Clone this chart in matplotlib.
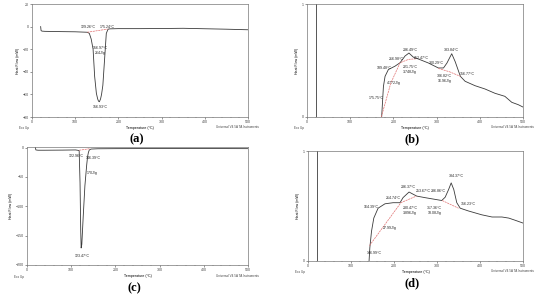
import matplotlib
matplotlib.use("Agg")
import matplotlib.pyplot as plt
from matplotlib.ticker import MultipleLocator

plt.rcParams['font.family'] = ['Liberation Sans', 'DejaVu Sans']

# ---------------- data ----------------
# (a)
a_T = [20, 21, 23, 30, 60, 100, 128, 132.7, 137, 141.4, 145, 149, 152, 154, 156, 158.7, 161, 164, 168, 172, 176, 180, 200, 250, 300, 350, 400, 450, 500]
a_HF = [0, -3.5, -4.0, -4.2, -4.4, -4.6, -5.0, -6.0, -11, -20, -44, -59, -64, -66, -66.5, -64, -60, -52, -29, -6, -2.3, -2.0, -1.8, -1.8, -1.7, -1.5, -1.9, -2.3, -2.8]
a_base_T = [128, 175]
a_base_HF = [-5.0, -2.2]
a_labels = [(129.26, -0.5, "129.26°C"), (175.24, -0.5, "175.24°C"),
            (156.97, -21, "156.97°C\n264J/g"), (156.93, -71, "156.93°C")]

# (b)
b_T = [172.8, 176.9, 180.7, 188.4, 203.8, 215.4, 227, 236, 246, 258, 281, 304, 316, 324, 335, 343, 355, 366, 389, 412, 435, 458, 474, 489, 500]
b_HF = [0, 0.27, 0.36, 0.42, 0.45, 0.48, 0.54, 0.566, 0.53, 0.513, 0.478, 0.434, 0.434, 0.478, 0.56, 0.49, 0.36, 0.316, 0.277, 0.248, 0.21, 0.183, 0.13, 0.109, 0.088]
b_base1_T = [172, 194, 215.4, 235, 252]
b_base1_HF = [0.0, 0.30, 0.48, 0.51, 0.515]
b_base2_T = [304, 330, 355]
b_base2_HF = [0.43, 0.40, 0.36]
b_labels = [(160, 0.17, "175.75°C"), (202, 0.30, "4.772J/g"), (179, 0.43, "189.48°C"),
            (206, 0.51, "216.98°C"), (238, 0.59, "236.49°C"), (238, 0.42, "221.75°C\n3.748J/g"),
            (265, 0.52, "252.47°C"), (299, 0.48, "300.29°C"), (318, 0.34, "306.82°C\n16.96J/g"),
            (334, 0.59, "333.84°C"), (371, 0.38, "356.77°C")]

# (c)
c_T = [19, 20, 25, 40, 80, 110, 118, 120, 121.5, 122.5, 124, 127, 131, 135, 137, 139, 141, 145, 160, 200, 300, 400, 500]
c_HF = [0, -4, -4.5, -4.5, -4.3, -4.0, -5, -60, -140, -171, -165, -120, -65, -30, -15.6, -8, -4, -2.5, -2, -1.8, -1.6, -1.6, -1.8]
c_base_T = [118, 143]
c_base_HF = [-4.5, -1.8]
c_labels = [(112, -14, "122.96°C"), (150, -17, "146.39°C"), (147, -43, "170J/g"), (124, -185, "123.47°C")]

# (d)
d_T = [142, 143.8, 147.7, 153, 163, 179, 198, 214, 221, 235, 245, 253, 272, 296, 311, 319, 327, 333, 339, 346, 354, 373, 404, 428, 451, 467, 482, 500]
d_HF = [0, 0.12, 0.27, 0.39, 0.48, 0.52, 0.53, 0.53, 0.576, 0.627, 0.606, 0.59, 0.576, 0.56, 0.55, 0.58, 0.65, 0.71, 0.65, 0.53, 0.48, 0.455, 0.42, 0.40, 0.40, 0.39, 0.37, 0.345]
d_base1_T = [143, 216, 252]
d_base1_HF = [0.14, 0.53, 0.59]
d_base2_T = [312, 350]
d_base2_HF = [0.55, 0.48]
d_labels = [(155, 0.07, "146.99°C"), (190, 0.30, "27.99J/g"), (148, 0.49, "164.39°C"),
            (199, 0.57, "214.74°C"), (233, 0.67, "236.37°C"), (237, 0.46, "230.47°C\n3.896J/g"),
            (268, 0.64, "253.67°C"), (303, 0.635, "286.86°C"), (294, 0.46, "317.36°C\n18.08J/g"),
            (344, 0.77, "334.37°C"), (374, 0.52, "356.23°C")]

xticks = [0, 100, 200, 300, 400, 500]

# ---------------- figure ----------------
W, H = 550, 296
fig = plt.figure(figsize=(W / 100, H / 100), dpi=100)
fig.patch.set_facecolor('white')

def box(l, t, r, b):
    return [l / W, 1 - b / H, (r - l) / W, (b - t) / H]

line_c = '#3a3a3a'
red_c = '#e07070'
fs = 2.6

panels = [
    dict(pos=box(32, 4, 248, 117), T=a_T, HF=a_HF, bases=[(a_base_T, a_base_HF)], labels=a_labels,
         ylim=(-80, 20), yticks=[-80, -60, -40, -20, 0, 20], ytl=None, vline=False, letter="(a)"),
    dict(pos=box(307, 4, 523, 117), T=b_T, HF=b_HF, bases=[(b_base1_T, b_base1_HF), (b_base2_T, b_base2_HF)],
         labels=b_labels, ylim=(0, 1), yticks=[0, 1], ytl=["0", "1"], vline=True, letter="(b)"),
    dict(pos=box(27, 147, 248, 265), T=c_T, HF=c_HF, bases=[(c_base_T, c_base_HF)], labels=c_labels,
         ylim=(-200, 1), yticks=[-200, -150, -100, -50, 0], ytl=None, vline=False, letter="(c)"),
    dict(pos=box(308, 151, 523, 261), T=d_T, HF=d_HF, bases=[(d_base1_T, d_base1_HF), (d_base2_T, d_base2_HF)],
         labels=d_labels, ylim=(0, 1), yticks=[0, 1], ytl=["0", "1"], vline=True, letter="(d)"),
]

for p in panels:
    ax = fig.add_axes(p['pos'])
    ax.plot(p['T'], p['HF'], color=line_c, lw=0.6)
    if p['vline']:
        ax.axvline(20, color=line_c, lw=0.6)
    for bt, bh in p['bases']:
        ax.plot(bt, bh, color=red_c, lw=0.5, ls=(0, (3, 1)))
    for x, y, s in p['labels']:
        ax.text(x, y, s, fontsize=fs, ha='center', va='center', color='#222222', linespacing=1.3)
    ax.set_xlim(0, 500)
    ax.set_ylim(*p['ylim'])
    ax.set_xticks(xticks)
    ax.set_yticks(p['yticks'])
    if p['ytl'] is not None:
        ax.set_yticklabels(p['ytl'])
    ax.xaxis.set_minor_locator(MultipleLocator(20))
    ax.tick_params(axis='both', which='major', labelsize=fs, length=1.5, width=0.4, pad=1, direction='out', colors='#444444')
    ax.tick_params(axis='x', which='minor', length=1.0, width=0.3, direction='out', colors='#444444')
    for s in ax.spines.values():
        s.set_linewidth(0.5)
        s.set_color('#777777')
    ax.set_xlabel("Temperature (°C)", fontsize=fs, labelpad=1)
    ax.set_ylabel("Heat Flow (mW)", fontsize=fs, labelpad=2)
    ax.text(-0.06, -0.1, "Exo Up", transform=ax.transAxes, fontsize=2.2, ha='left', va='center', color='#444444')
    ax.text(1.05, -0.09, "Universal V4.5A TA Instruments", transform=ax.transAxes, fontsize=2.2,
            ha='right', va='center', color='#444444')
    ax.text(0.485, -0.2, p['letter'], transform=ax.transAxes, fontsize=9, fontweight='bold',
            family=['Liberation Serif', 'DejaVu Serif'], ha='center', va='center')

fig.savefig("out.png", dpi=100, facecolor='white')
